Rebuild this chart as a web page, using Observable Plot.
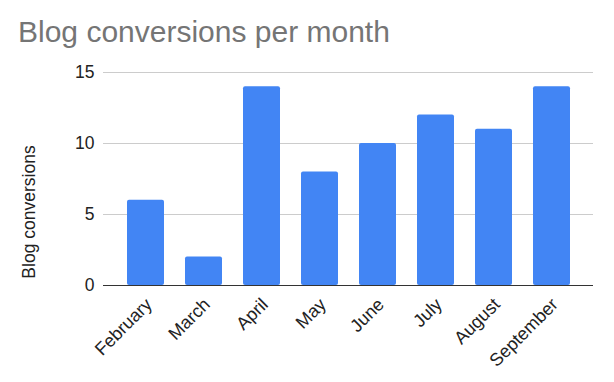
<!DOCTYPE html>
<html><head><meta charset="utf-8">
<script src="https://cdn.jsdelivr.net/npm/d3@7"></script>
<script src="https://cdn.jsdelivr.net/npm/@observablehq/plot@0.6"></script>
<style>
body{margin:0;background:#fff;font-family:"Liberation Sans",Arial,sans-serif;}
#title{height:49px;box-sizing:border-box;padding:14px 0 0 18px;font-size:30px;line-height:35px;color:#757575;white-space:nowrap;}
#chart svg{display:block;}
</style></head><body>
<div id="title">Blog conversions per month</div>
<div id="chart"></div>
<script>
const months = ["February","March","April","May","June","July","August","September"];
const conversions = [6, 2, 14, 8, 10, 12, 11, 14];
const yTicks = [0, 5, 10, 15];
const yLabel = "Blog conversions";

const data = months.map((m, i) => ({month: m, value: conversions[i]}));

const chart = Plot.plot({
  width: 614, height: 333,
  marginTop: 23, marginBottom: 97, marginLeft: 103, marginRight: 21,
  style: {fontFamily: '"Liberation Sans", Arial, sans-serif', fontSize: "17px", color: "#222", background: "#fff"},
  x: {domain: months, paddingInner: 0.363, paddingOuter: 0.355, label: null},
  y: {domain: [0, 15], ticks: yTicks, label: null},
  marks: [
    Plot.gridY(yTicks, {stroke: "#cccccc", strokeOpacity: 1}),
    Plot.barY(data, {x: "month", y: "value", fill: "#4285F4", rx: 2}),
    Plot.ruleY([0], {stroke: "#333333"}),
    Plot.axisY(yTicks, {tickSize: 0, tickPadding: 9, label: null, fontSize: 17.5}),
    Plot.axisX({tickSize: 0, tickRotate: -45, tickPadding: 16, dx: 3, label: null, fontSize: 18}),
    Plot.text([yLabel], {frameAnchor: "left", textAnchor: "middle", rotate: -90, dx: -74, dy: 33, fontSize: 17.5, fill: "#222"})
  ]
});
document.getElementById("chart").append(chart);
</script>
</body></html>
